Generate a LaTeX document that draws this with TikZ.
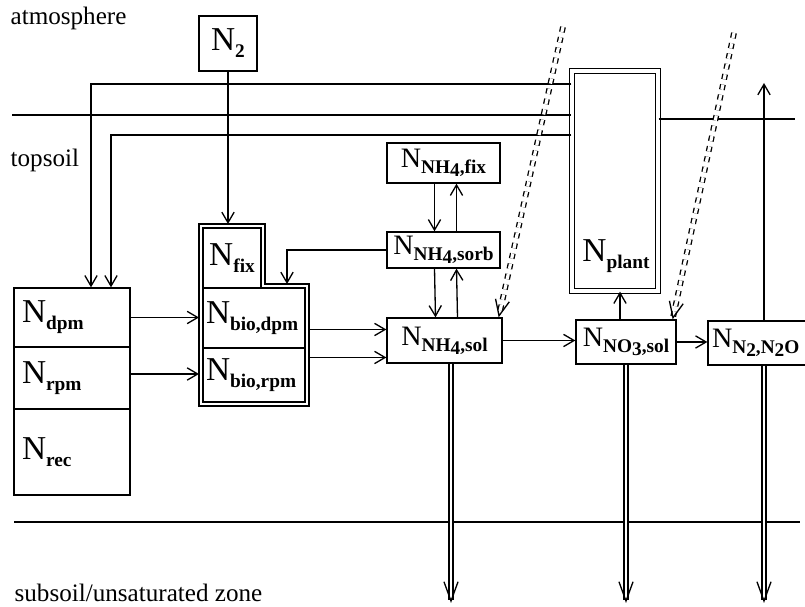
\documentclass[tikz,border=0pt]{standalone}
\usepackage{fontspec}
\setmainfont{Liberation Serif}
\usetikzlibrary{arrows.meta,calc}
\newcommand\Nx[1]{N\raisebox{-0.45ex}{\fontsize{11}{12}\selectfont\bfseries #1}}
\newcommand\lowr[1]{\raisebox{-0.35ex}{#1}}

\begin{document}
\begin{tikzpicture}[
    x=0.02cm, y=-0.02cm,
    line width=0.75pt,
    >={Straight Barb[length=6pt,width=7pt]},
    box/.style={draw, inner sep=1pt, font=\fontsize{16}{18}\selectfont},
    big/.style={font=\fontsize{19}{21}\selectfont},
    cell/.style={box, align=left, inner xsep=0.16cm},
    flow/.style={->},
    border/.style={line width=0.8pt},
    leach/.style={double, double distance=1.6pt,
        -{Straight Barb[length=11pt,width=8pt,line width=0.75pt]}},
    gas/.style={double, double distance=1.8pt, dash pattern=on 3pt off 3pt,
        -{Straight Barb[length=9pt,width=8pt,line width=0.75pt]}},
    zone/.style={font=\fontsize{14.3}{16}\selectfont, anchor=west, inner sep=0}
]
\useasboundingbox[fill=white] (0,0) rectangle (805,607);

% zones
\node[zone] (atm) at (10,18) {atmosphere};
\node[zone] (top) at (10,160) {topsoil};
\node[zone] (sub) at (14,593) {subsoil/unsaturated zone};
\coordinate (bdl) at (12,115);
\coordinate (bdr) at (795,119);

% pools
\node[box, big, minimum width=1.16cm, minimum height=1.10cm] (ntwo) at (228,43.5) {\Nx{2}};
\node[cell, big, text width=2.0cm, minimum height=1.18cm] (dpm) at (72,317.5) {\Nx{dpm}};
\node[cell, big, text width=2.0cm, minimum height=1.24cm] (rpm) at (72,378) {\Nx{rpm}};
\node[cell, big, text width=2.0cm, minimum height=1.72cm] (rec) at (72,452) {\Nx{rec}};

\node[box, big, minimum width=1.16cm, minimum height=1.20cm] (fix) at (232,258) {\Nx{fix}};
\node[cell, big, inner xsep=0.06cm, text width=1.92cm, minimum height=1.20cm] (biodpm) at (254,318) {\Nx{bio,dpm}};
\node[cell, big, inner xsep=0.06cm, text width=1.92cm, minimum height=1.08cm] (biorpm) at (254,375) {\Nx{bio,rpm}};
\coordinate (gnw) at (199,224);
\coordinate (gse) at (309,406);
\draw (gnw) -- (265,224) -- (265,284) -- (309,284) -- (gse) -- (199,406) -- cycle;

\node[box, minimum width=2.26cm, minimum height=0.80cm] (nhfix) at (443.5,163) {\Nx{NH\lowr{4},fix}};
\node[box, minimum width=2.26cm, minimum height=0.72cm] (nhsorb) at (443.5,250) {\Nx{NH\lowr{4},sorb}};
\node[box, minimum width=2.30cm, minimum height=0.90cm] (nhsol) at (444.5,340.5) {\Nx{NH\lowr{4},sol}};
\node[box, minimum width=2.00cm, minimum height=0.88cm] (no3) at (626,342) {\Nx{NO\lowr{3},sol}};
\node[cell, inner xsep=0.08cm, text width=2.08cm, minimum height=0.88cm] (n2o) at (764,343) {\Nx{N\lowr{2},N\lowr{2}O}};

\node[draw, double, double distance=2pt, inner sep=0,
    minimum width=1.72cm, minimum height=4.40cm] (plant) at (615,181) {};
\node[big] (plantlab) at (616,256) {\Nx{plant}};

% boundaries
\draw[border] (bdl) -- (bdl -| plant.west);
\draw[border] (plant.east |- bdr) -- (bdr);
\draw[border] (14,522) -- (800,522);

% inputs
\coordinate (atmA) at (91,84);
\coordinate (atmB) at (111,135);
\draw[flow] (plant.west |- atmA) -- (atmA) -- (atmA |- dpm.north);
\draw[flow] (plant.west |- atmB) -- (atmB) -- (atmB |- dpm.north);
\draw[flow] (ntwo.south) -- (ntwo.south |- gnw);
\coordinate (stepin) at (287,284);
\draw[flow] (nhsorb.west) -| (stepin);

% turnover
\draw[flow] (dpm.east) -- (dpm.east -| gnw);
\draw[flow] ([yshift=0.08cm]rpm.east) -- ([yshift=0.08cm]rpm.east -| gnw);
\draw[flow] ([yshift=0.22cm]nhsol.west -| gse) -- ([yshift=0.22cm]nhsol.west);
\draw[flow] ([yshift=-0.34cm]nhsol.west -| gse) -- ([yshift=-0.34cm]nhsol.west);
\draw[flow] ([xshift=-0.18cm]nhfix.south) -- ([xshift=-0.18cm]nhsorb.north);
\draw[flow] ([xshift=0.26cm]nhsorb.north) -- ([xshift=0.26cm]nhfix.south);
\draw[flow] ([xshift=-0.18cm]nhsorb.south) -- ([xshift=-0.18cm]nhsol.north);
\draw[flow] ([xshift=0.26cm]nhsol.north) -- ([xshift=0.26cm]nhsorb.south);
\draw[flow] (nhsol.east) -- (nhsol.east -| no3.west);
\draw[flow] ([xshift=-0.12cm]no3.north) -- ([xshift=-0.12cm]no3.north |- plant.south);
\draw[flow] (no3.east) -- (no3.east -| n2o.west);

% losses
\coordinate (sky) at (0,83);
\coordinate (deep) at (0,603);
\draw[flow] (n2o.north) -- (n2o.north |- sky);
\draw[leach] ([xshift=0.13cm]nhsol.south) -- ([xshift=0.13cm]nhsol.south |- deep);
\draw[leach] (no3.south) -- (no3.south |- deep);
\draw[leach] (n2o.south) -- (n2o.south |- deep);

% deposition
\coordinate (depA) at (563,27);
\coordinate (depB) at (734,33);
\draw[gas] (depA) -- ([xshift=-0.08cm]nhsol.north east);
\draw[gas] (depB) -- ([xshift=-0.08cm]no3.north east);
\end{tikzpicture}
\end{document}
